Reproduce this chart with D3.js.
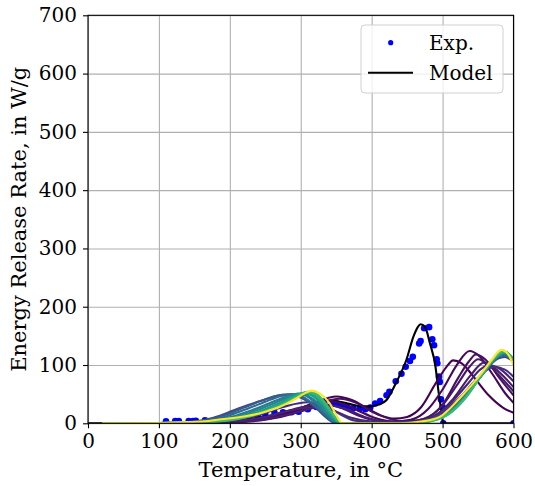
<!DOCTYPE html>
<html>
<head>
<meta charset="utf-8">
<script src="https://cdn.jsdelivr.net/npm/d3@7"></script>
<style>
  html, body { margin: 0; padding: 0; background: #fff; }
  svg { display: block; }
  text { font-family: "DejaVu Serif", serif; fill: #000; }
</style>
</head>
<body>
<svg id="chart" width="535" height="486"></svg>
<script>
// ---- axis ticks ----
const xTicks = [0, 100, 200, 300, 400, 500, 600];
const yTicks = [0, 100, 200, 300, 400, 500, 600, 700];

// ---- experimental energy release rate: temperature (°C) and rate (W/g) ----
const expTemp = [110, 123, 128, 142, 148, 152, 165, 178, 190, 203, 216, 228, 240, 250, 263, 275, 287, 297,
  310, 322, 333, 346, 351, 358, 366, 374, 383, 391, 398, 405, 412, 421, 425, 434, 442, 448, 454, 458,
  467, 469, 474, 481, 485.5, 488, 491.7, 492.6, 495, 496, 497.7, 500, 501, 600];
const expRate = [3.5, 4, 4, 4, 4, 4.5, 5, 5, 6, 7, 8, 10, 12, 15, 18, 19, 19, 20,
  24, 28, 32, 35, 34, 30, 28, 26, 25, 24, 27, 34, 38, 48, 54, 72, 85, 97, 107, 114,
  137, 141, 163, 165, 144, 134, 110, 103, 80, 71, 41, 28, 0, 0];

// ---- fitted model ----
const modelTemp = [0, 20, 100, 150, 200, 238, 271, 299, 315, 330, 341, 355, 370, 385, 398, 410, 421,
  435, 449, 459, 465, 469, 475, 482, 490, 494, 498, 501, 600];
const modelRate = [0, 0, 0.5, 1.5, 4, 9, 17, 25, 33, 37, 39, 37, 33, 29, 29, 32, 40,
  71, 109, 149, 165, 170, 166, 138, 97, 57, 23, 0, 0];

// ---- parameter sweep: colour position on the viridis scale, and [temperature, rate] nodes ----
const sweepShade = [0.00, 0.02, 0.04, 0.06, 0.08, 0.10, 0.14,
  0.22, 0.28, 0.34, 0.40, 0.46, 0.52, 0.58, 0.64, 0.68, 1.00];
const sweepNodes = [
  [[20,0],[150,0.5],[200,2],[240,6],[270,12],[300,24],[325,38],[350,46],[372,40],[392,27],[412,14],[432,8],[450,11],[470,28],[490,68],[505,96],[515,108],[527,103],[545,78],[565,48],[585,27],[600,18]],
  [[20,0],[150,0.5],[200,2],[250,8],[290,22],[320,34],[340,38],[360,33],[382,21],[405,9],[430,3],[455,6],[480,25],[500,58],[520,100],[538,124],[552,115],[570,85],[588,52],[600,35]],
  [[20,0],[150,0.3],[200,1.5],[250,6],[290,17],[325,34],[355,42],[378,35],[400,20],[425,8],[450,3],[475,8],[500,32],[522,78],[537,106],[547,118],[560,110],[580,78],[600,48]],
  [[20,0],[150,0.5],[200,3],[250,10],[290,24],[330,33],[355,27],[380,14],[405,5],[435,2],[465,5],[495,24],[520,65],[538,97],[550,110],[565,100],[585,75],[600,55]],
  [[20,0],[150,0.3],[200,2],[250,7],[295,19],[325,28],[345,30],[365,24],[390,11],[420,3],[455,2],[485,10],[515,42],[540,83],[558,104],[572,96],[588,78],[600,62]],
  [[20,0],[150,0.5],[200,3],[245,10],[285,22],[320,28],[345,22],[370,10],[400,3],[440,1],[475,6],[505,27],[535,67],[553,92],[565,100],[580,94],[600,72]],
  [[20,0],[150,1],[200,5],[240,14],[275,28],[310,36],[335,30],[355,16],[375,5],[410,1],[460,2],[495,15],[525,45],[550,78],[572,97],[588,92],[600,80]],
  [[20,0],[100,0.5],[130,1.5],[150,3],[165,6],[188,14],[211,25],[235,35],[258,44],[275,49],[290,48],[305,41],[320,28],[332,14],[342,4],[350,0],[430,0],[460,2],[490,9],[515,27],[540,60],[562,94],[578,111],[588,114],[600,105]],
  [[20,0],[100,0.5],[140,2],[170,6],[195,15],[220,27],[245,39],[265,47],[280,49.5],[295,47],[310,38],[325,24],[337,10],[347,1],[352,0],[440,0],[470,3],[500,13],[525,37],[550,74],[570,104],[584,117],[594,113],[600,107]],
  [[20,0],[100,0.4],[145,2],[175,6],[200,14],[225,25],[250,37],[270,46],[285,50],[300,47],[315,36],[330,20],[342,6],[350,0],[445,0],[475,3],[505,16],[530,44],[555,82],[573,108],[585,118],[595,112],[600,106]],
  [[20,0],[100,0.3],[150,2],[180,5],[205,12],[230,22],[255,34],[275,44],[290,50],[305,48],[320,36],[335,18],[347,4],[354,0],[450,0],[480,4],[505,15],[530,43],[555,82],[573,109],[586,119],[596,113],[600,108]],
  [[20,0],[100,0.3],[155,2],[185,5],[210,11],[235,21],[260,33],[280,44],[296,51],[310,47],[325,34],[338,16],[349,3],[355,0],[450,0],[480,4],[505,15],[530,44],[555,84],[574,111],[586,120],[596,114],[600,109]],
  [[20,0],[100,0.3],[160,2],[190,5],[215,11],[240,20],[265,32],[285,44],[300,51],[313,49],[327,36],[340,17],[351,3],[356,0],[455,0],[482,4],[507,16],[532,46],[556,86],[575,113],[587,121],[596,116],[600,110]],
  [[20,0],[100,0.3],[160,2],[192,5],[218,11],[243,20],[268,32],[288,44],[303,52],[316,49],[329,36],[342,17],[352,3],[357,0],[455,0],[483,4],[508,16],[533,46],[557,86],[576,114],[587,122],[596,116],[600,108]],
  [[20,0],[100,0.3],[162,2],[195,5],[222,11],[247,20],[272,32],[292,45],[307,53],[319,50],[332,36],[344,16],[353,3],[357,0],[455,0],[484,4],[509,16],[534,46],[557,86],[576,115],[587,123],[596,116],[600,106]],
  [[20,0],[100,0.3],[165,2],[198,5],[225,11],[250,20],[275,32],[295,45],[309,54],[321,51],[334,36],[346,15],[354,3],[358,0],[455,0],[485,4],[510,17],[535,48],[557,87],[576,116],[586,124],[596,114],[600,104]],
  [[20,0],[100,0.5],[141,2],[170,4],[188,7],[210,10],[235,15],[250,20],[270,28],[282,35],[294,43],[305,51],[315,56],[327,51],[341,34],[351,12],[358,0],[440,0],[470,3],[496,11],[524,43],[553,83],[570,110],[583,126],[592,119],[600,100]]
];

// ---- legend entries ----
const legendLabels = ["Exp.", "Model"];

// ---- layout ----
const W = 535, H = 486;
const plot = { left: 88, right: 513.5, top: 15.3, bottom: 423.3 };

const svg = d3.select("#chart");
const x = d3.scaleLinear().domain([0, 600]).range([plot.left, plot.right]);
const y = d3.scaleLinear().domain([0, 700]).range([plot.bottom, plot.top]);

svg.append("defs").append("clipPath").attr("id", "plotClip")
  .append("rect")
  .attr("x", plot.left).attr("y", plot.top)
  .attr("width", plot.right - plot.left).attr("height", plot.bottom - plot.top);

// grid
const grid = svg.append("g").attr("class", "grid");
grid.append("g")
  .attr("transform", `translate(0,${plot.bottom})`)
  .call(d3.axisBottom(x).tickValues(xTicks).tickSize(-(plot.bottom - plot.top)).tickFormat(""))
  .call(g => g.select(".domain").remove());
grid.append("g")
  .attr("transform", `translate(${plot.left},0)`)
  .call(d3.axisLeft(y).tickValues(yTicks).tickSize(-(plot.right - plot.left)).tickFormat(""))
  .call(g => g.select(".domain").remove());
grid.selectAll("line").attr("stroke", "#b0b0b0").attr("stroke-width", 1.1);

const layer = svg.append("g").attr("clip-path", "url(#plotClip)");

// experimental points
layer.append("g").selectAll("circle")
  .data(expTemp.map((t, i) => [t, expRate[i]]))
  .join("circle")
  .attr("cx", d => x(d[0]))
  .attr("cy", d => y(d[1]))
  .attr("r", 3.3)
  .attr("fill", "#0000ff");

const line = d3.line()
  .x(d => x(d[0]))
  .y(d => y(d[1]))
  .curve(d3.curveMonotoneX);

// model
layer.append("path")
  .datum(modelTemp.map((t, i) => [t, modelRate[i]]))
  .attr("d", line)
  .attr("fill", "none")
  .attr("stroke", "#000")
  .attr("stroke-width", 2.1);

// sweep curves, coloured along viridis
layer.append("g").selectAll("path")
  .data(sweepNodes)
  .join("path")
  .attr("d", line)
  .attr("fill", "none")
  .attr("stroke", (d, i) => d3.interpolateViridis(sweepShade[i]))
  .attr("stroke-width", 2.1);

// axes
const axX = svg.append("g")
  .attr("transform", `translate(0,${plot.bottom})`)
  .call(d3.axisBottom(x).tickValues(xTicks).tickSize(5).tickPadding(6).tickFormat(d3.format("d")));
const axY = svg.append("g")
  .attr("transform", `translate(${plot.left},0)`)
  .call(d3.axisLeft(y).tickValues(yTicks).tickSize(5).tickPadding(6).tickFormat(d3.format("d")));
[axX, axY].forEach(a => {
  a.select(".domain").remove();
  a.selectAll("line").attr("stroke", "#000").attr("stroke-width", 1.1);
  a.selectAll("text").attr("font-family", "DejaVu Serif").attr("font-size", 20).attr("fill", "#000");
});

// frame
svg.append("rect")
  .attr("x", plot.left).attr("y", plot.top)
  .attr("width", plot.right - plot.left).attr("height", plot.bottom - plot.top)
  .attr("fill", "none").attr("stroke", "#000").attr("stroke-width", 1.1);

// axis titles
svg.append("text")
  .attr("x", (plot.left + plot.right) / 2).attr("y", 477)
  .attr("text-anchor", "middle")
  .attr("font-size", 21)
  .text("Temperature, in °C");
svg.append("text")
  .attr("transform", `translate(19,${(plot.top + plot.bottom) / 2}) rotate(-90)`)
  .attr("dy", "0.35em")
  .attr("text-anchor", "middle")
  .attr("font-size", 21)
  .text("Energy Release Rate, in W/g");

// legend
const lg = svg.append("g");
lg.append("rect")
  .attr("x", 361).attr("y", 25).attr("width", 142).attr("height", 68).attr("rx", 4)
  .attr("fill", "#fff").attr("fill-opacity", 0.8)
  .attr("stroke", "#d0d0d0").attr("stroke-width", 1);
lg.append("circle").attr("cx", 390.7).attr("cy", 42.7).attr("r", 2.6).attr("fill", "#0000ff");
lg.append("line").attr("x1", 368).attr("x2", 413).attr("y1", 72.7).attr("y2", 72.7)
  .attr("stroke", "#000").attr("stroke-width", 2.1);
lg.selectAll("text.lbl").data(legendLabels).join("text")
  .attr("class", "lbl")
  .attr("x", 429)
  .attr("y", (d, i) => 49.5 + i * 30)
  .attr("font-size", 20)
  .text(d => d);
</script>
</body>
</html>
